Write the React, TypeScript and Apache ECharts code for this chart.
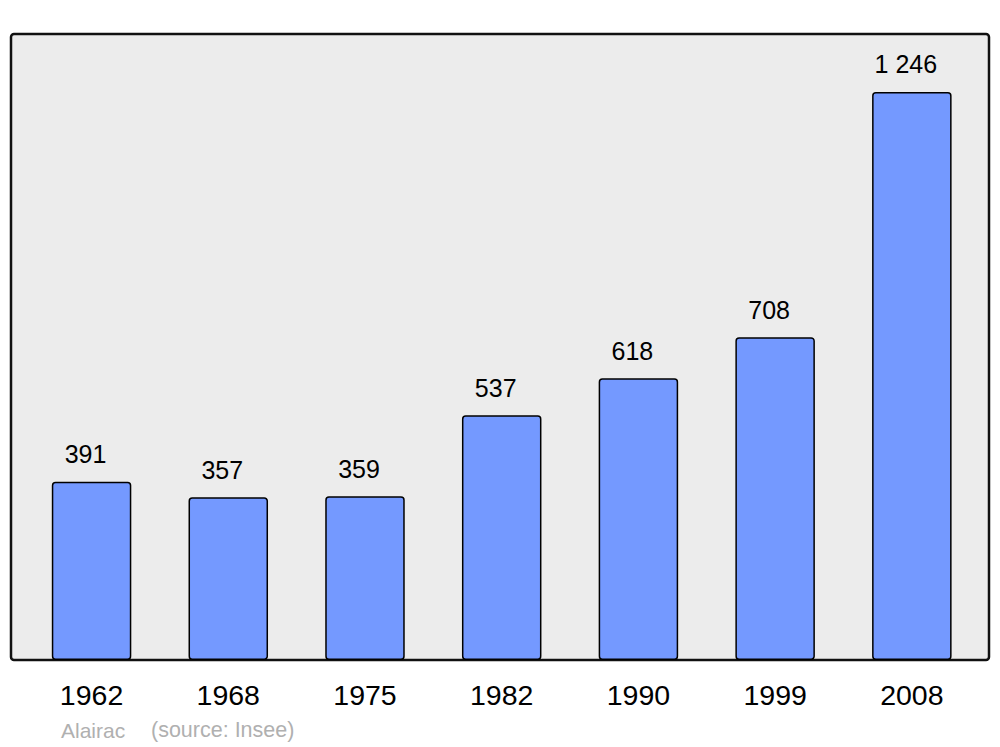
import React, { useEffect, useRef } from "react";
import * as echarts from "echarts";

const years = ["1962", "1968", "1975", "1982", "1990", "1999", "2008"];
const population = [391, 357, 359, 537, 618, 708, 1246];
const sourceLabel = "Alairac";
const sourceNote = "(source: Insee)";

function fmt(v: number): string {
  return String(v).replace(/\B(?=(\d{3})+(?!\d))/g, " ");
}

const FONT = "Liberation Sans, Arial, sans-serif";

export default function App() {
  const ref = useRef<HTMLDivElement>(null);
  useEffect(() => {
    if (!ref.current) return;
    const chart = echarts.init(ref.current, undefined, { renderer: "svg" });
    chart.setOption({
      animation: false,
      backgroundColor: "#ffffff",
      textStyle: { fontFamily: FONT },
      grid: { left: 23.2, right: 19.8, top: 34, bottom: 87 },
      graphic: [
        {
          type: "rect",
          z: -10,
          shape: { x: 11, y: 34, width: 978, height: 626, r: 3 },
          style: { fill: "#ececec", stroke: "#111111", lineWidth: 2.5 },
        },
        {
          type: "text",
          x: 61,
          y: 730,
          style: {
            text: sourceLabel,
            fill: "#b0b0b0",
            fontSize: 21,
            fontFamily: FONT,
            verticalAlign: "middle",
          },
        },
        {
          type: "text",
          x: 151,
          y: 730,
          style: {
            text: sourceNote,
            fill: "#b0b0b0",
            fontSize: 21.5,
            fontFamily: FONT,
            verticalAlign: "middle",
          },
        },
      ],
      xAxis: {
        type: "category",
        data: years,
        axisLine: { show: false },
        axisTick: { show: false },
        axisLabel: {
          color: "#000000",
          fontSize: 28.5,
          margin: 20,
          fontFamily: FONT,
        },
      },
      yAxis: {
        type: "value",
        min: 0,
        max: 1373,
        show: false,
        splitLine: { show: false },
      },
      series: [
        {
          type: "bar",
          data: population,
          barWidth: 79.5,
          itemStyle: {
            color: "#7499ff",
            borderColor: "#000000",
            borderWidth: 1.5,
            borderRadius: 3,
          },
          label: {
            show: true,
            position: "top",
            distance: 15,
            offset: [-6, 0],
            color: "#000000",
            fontSize: 25,
            fontFamily: FONT,
            formatter: (p: any) => fmt(p.value),
          },
        },
      ],
    });
    return () => chart.dispose();
  }, []);
  return (
    <div
      ref={ref}
      style={{ position: "absolute", left: 0, top: 0, width: 1000, height: 747 }}
    />
  );
}
